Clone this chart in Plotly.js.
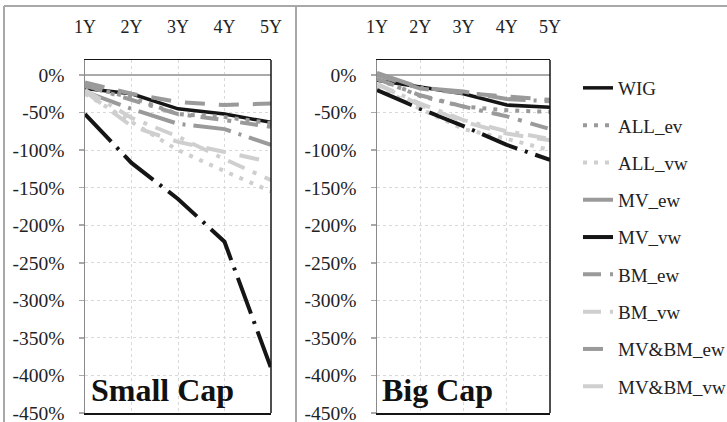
<!DOCTYPE html>
<html>
<head>
<meta charset="utf-8">
<script src="https://cdn.plot.ly/plotly-3.0.1.min.js"></script>
<style>html,body{margin:0;padding:0;background:#fff;}#chart{width:727px;height:422px;}</style>
</head>
<body>
<div id="chart"></div>
<script>
// ---- data ----
const years = ['1Y', '2Y', '3Y', '4Y', '5Y'];
const seriesNames = ['WIG', 'ALL_ev', 'ALL_vw', 'MV_ew', 'MV_vw', 'BM_ew', 'BM_vw', 'MV&BM_ew', 'MV&BM_vw'];
const panelTitles = ['Small Cap', 'Big Cap'];
const yTicks = [0, -50, -100, -150, -200, -250, -300, -350, -400, -450];

// Small Cap (percent)
const smallWIG     = [-18, -25, -45, -52, -63];
const smallALL_ev  = [-15, -30, -52, -56, -64];
const smallALL_vw  = [-25, -62, -100, -128, -155];
const smallMV_ew   = [-22, -45, -65, -72, -93];
const smallMV_vw   = [-52, -117, -165, -222, -390];
const smallBM_ew   = [-14, -33, -52, -60, -69];
const smallBM_vw   = [-20, -57, -82, -112, -140];
const smallMVBM_ew = [-10, -25, -36, -40, -38];
const smallMVBM_vw = [-22, -68, -89, -103, -116];

// Big Cap (percent)
const bigWIG     = [-7, -16, -25, -40, -43];
const bigALL_ev  = [-5, -28, -42, -47, -49];
const bigALL_vw  = [-15, -45, -72, -85, -100];
const bigMV_ew   = [3, -17, -22, -32, -35];
const bigMV_vw   = [-20, -45, -68, -93, -113];
const bigBM_ew   = [-5, -27, -42, -55, -72];
const bigBM_vw   = [-12, -38, -60, -75, -85];
const bigMVBM_ew = [0, -18, -24, -28, -33];
const bigMVBM_vw = [-12, -40, -62, -78, -87];

const smallData = [smallWIG, smallALL_ev, smallALL_vw, smallMV_ew, smallMV_vw, smallBM_ew, smallBM_vw, smallMVBM_ew, smallMVBM_vw];
const bigData = [bigWIG, bigALL_ev, bigALL_vw, bigMV_ew, bigMV_vw, bigBM_ew, bigBM_vw, bigMVBM_ew, bigMVBM_vw];

// ---- styles ----
const BLACK = '#151515', GRAY = '#9a9a9a', LIGHT = '#cfcfcf';
const styles = [
  {color: BLACK, dash: 'solid', width: 3.5},
  {color: GRAY,  dash: '4px,7px', width: 4},
  {color: LIGHT, dash: '4px,7px', width: 4},
  {color: GRAY,  dash: '38px,8px,3px,8px', width: 4},
  {color: BLACK, dash: '38px,8px,3px,8px', width: 4},
  {color: GRAY,  dash: '18px,9px,4px,9px', width: 4},
  {color: LIGHT, dash: '18px,9px,4px,9px', width: 4},
  {color: GRAY,  dash: '20px,14px', width: 4},
  {color: LIGHT, dash: '20px,14px', width: 4}
];

const traces = [];
[smallData, bigData].forEach((set, p) => {
  set.forEach((vals, i) => {
    traces.push({
      type: 'scatter', mode: 'lines',
      x: years, y: vals,
      name: seriesNames[i],
      legendgroup: 'g' + i,
      showlegend: p === 0,
      xaxis: p === 0 ? 'x' : 'x2',
      yaxis: p === 0 ? 'y' : 'y2',
      line: {color: styles[i].color, dash: styles[i].dash, width: styles[i].width},
      hoverinfo: 'skip'
    });
  });
});

const W = 727, H = 422;
const serif = '"Liberation Serif", "Times New Roman", serif';
const yDom = [1 - 413 / H, 1 - 60 / H];

function xAxis(dom, anchor) {
  return {
    domain: dom, anchor: anchor, side: 'top', type: 'category',
    categoryorder: 'array', categoryarray: years,
    range: [0, 4], showgrid: true, gridcolor: '#d9d9d9', griddash: 'dot', gridwidth: 1,
    showline: true, linecolor: BLACK, linewidth: 1.5, mirror: true,
    ticks: '', ticklabelstandoff: 18, ticklabeloverflow: 'allow',
    tickfont: {family: serif, size: 18, color: '#222'},
    zeroline: false, fixedrange: true, automargin: false
  };
}
function yAxis(anchor) {
  return {
    domain: yDom, anchor: anchor, range: [-450, 20],
    tickvals: yTicks, ticktext: yTicks.map(v => v + '%'),
    showgrid: true, gridcolor: '#d9d9d9', griddash: 'dot', gridwidth: 1,
    zeroline: true, zerolinecolor: '#aaaaaa', zerolinewidth: 1.5,
    showline: true, linecolor: '#8a8a8a', linewidth: 1.5,
    ticks: 'outside', ticklen: 5, tickcolor: '#aaaaaa', tickwidth: 1.5,
    ticklabelstandoff: 10, ticklabeloverflow: 'allow',
    tickfont: {family: serif, size: 19.5, color: '#222'},
    fixedrange: true, automargin: false
  };
}

const layout = {
  width: W, height: H,
  font: {family: serif, size: 18, color: '#222'},
  margin: {l: 0, r: 0, t: 0, b: 0, autoexpand: false},
  paper_bgcolor: '#fff', plot_bgcolor: '#fff',
  showlegend: true,
  xaxis: xAxis([85 / W, 271 / W], 'y'),
  yaxis: yAxis('x'),
  xaxis2: xAxis([377 / W, 550 / W], 'y2'),
  yaxis2: yAxis('x2'),
  legend: {
    x: 578 / W, xanchor: 'left', y: 1 - 69 / H, yanchor: 'top',
    font: {family: serif, size: 19, color: '#222'},
    tracegroupgap: 9.6, bgcolor: 'rgba(0,0,0,0)', borderwidth: 0
  },
  annotations: panelTitles.map((t, p) => ({
    text: '<b>' + t + '</b>', xref: 'paper', yref: 'paper',
    x: (p === 0 ? 89 : 380) / W, xanchor: 'left',
    y: 1 - 410 / H, yanchor: 'bottom', showarrow: false,
    font: {family: serif, size: 32, color: '#111'}
  })),
  shapes: [
    {type: 'line', xref: 'paper', yref: 'paper', x0: 4 / W, x1: 1, y0: 1 - 6 / H, y1: 1 - 6 / H, line: {color: '#a8a8a8', width: 2}},
    {type: 'line', xref: 'paper', yref: 'paper', x0: 4 / W, x1: 4 / W, y0: 0, y1: 1 - 6 / H, line: {color: '#a8a8a8', width: 2}},
    {type: 'line', xref: 'paper', yref: 'paper', x0: 296 / W, x1: 296 / W, y0: 0, y1: 1 - 6 / H, line: {color: '#a8a8a8', width: 2}},
    {type: 'line', xref: 'x domain', yref: 'y domain', x0: 1, x1: 1, y0: 0, y1: 1, line: {color: BLACK, width: 1.5}},
    {type: 'line', xref: 'x2 domain', yref: 'y2 domain', x0: 1, x1: 1, y0: 0, y1: 1, line: {color: BLACK, width: 1.5}}
  ]
};

Plotly.newPlot('chart', traces, layout, {staticPlot: true, displayModeBar: false});
</script>
</body>
</html>
